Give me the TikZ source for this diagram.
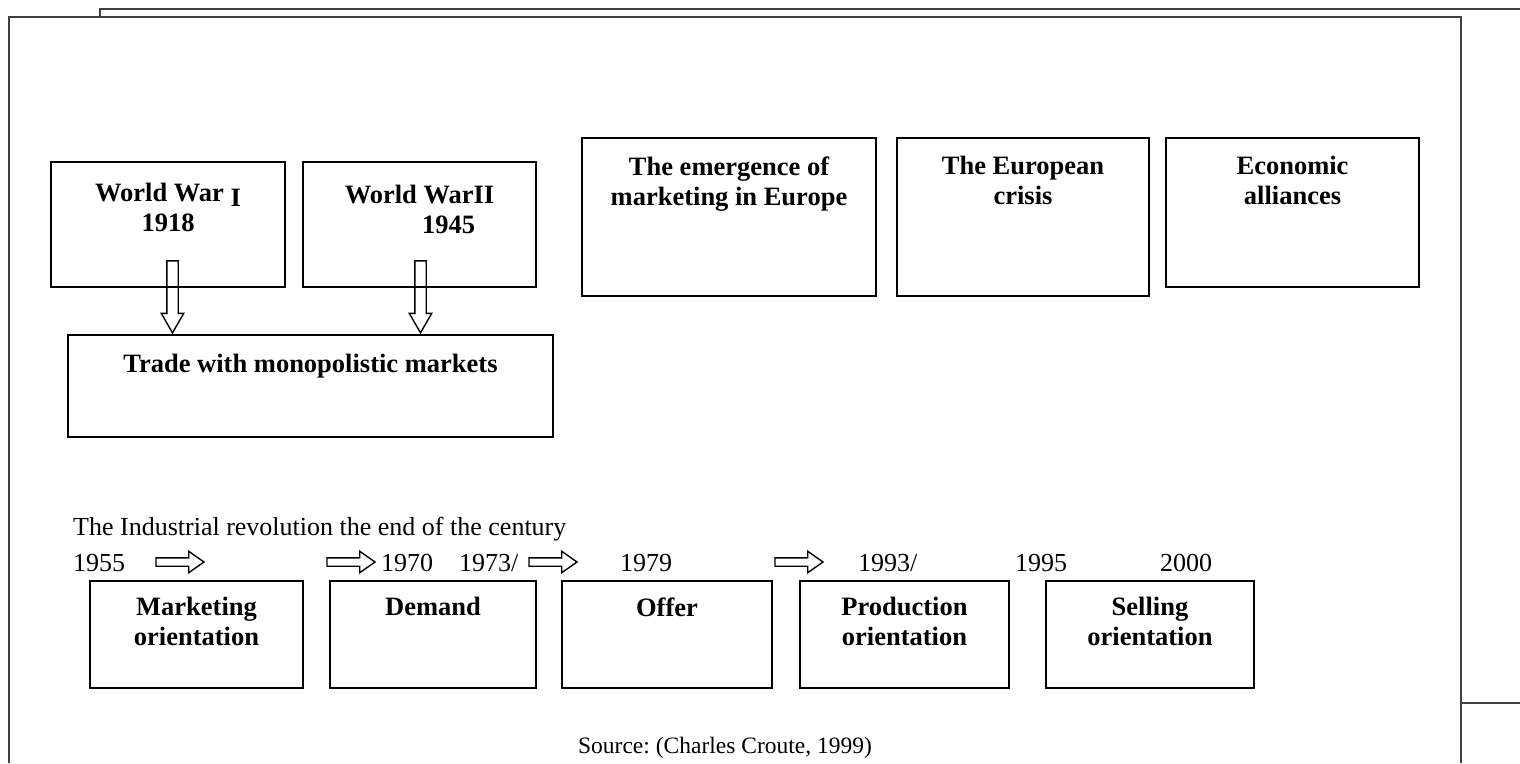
\documentclass[tikz,border=0pt]{standalone}
\usepackage{fontspec}
\setmainfont{Liberation Serif}
\frenchspacing
\usetikzlibrary{positioning, shapes.arrows, calc}

\tikzset{
  frame/.style={draw=black!75, line width=1.8pt},
  box/.style={draw, line width=1.6pt, inner sep=0pt},
  boxlabel/.style={font=\bfseries\fontsize{26.5}{30}\selectfont, align=center, inner sep=0pt, anchor=north},
  plaintext/.style={font=\fontsize{26}{30}\selectfont, inner sep=0pt},
  rarrow/.style={single arrow, draw, line width=1.4pt, inner sep=3.5pt, minimum height=48pt,
    single arrow head extend=6.5pt, single arrow tip angle=70},
  downarrow/.style={single arrow, draw, line width=1.4pt, inner sep=5pt, minimum height=72pt,
    single arrow head extend=5.5pt, single arrow tip angle=60, shape border rotate=270, anchor=tip},
}

\begin{document}
\begin{tikzpicture}[x=1pt, y=-1pt]
\useasboundingbox (0,0) rectangle (1520,763);

% page frames
\draw[frame] (100,17) -- (100,9) -- (1520,9);
\draw[frame] (9,763) -- (9,17) -- (1461,17) -- (1461,763);
\draw[frame] (1461,703) -- (1520,703);

% the two wars
\node[box, minimum width=234, minimum height=125] (ww1) at (168,224.5) {};
\node[boxlabel, below=22pt of ww1.north] (ww1text) {World War \raisebox{-5pt}{I}\\1918};
\node[box, minimum width=233, minimum height=125] (ww2) at (419.5,224.5) {};
\node[boxlabel, below=24pt of ww2.north] (ww2text) {World WarII\\\hspace*{58pt}1945};

% monopolistic markets
\node[box, minimum width=485, minimum height=102] (trade) at (310.5,386) {};
\node[boxlabel, below=20pt of trade.north] (tradetext) {Trade with monopolistic markets};
\node[downarrow] (arr1) at ($(ww1.south |- trade.north)+(4.5,0)$) {};
\node[downarrow] (arr2) at ($(ww2.south |- trade.north)+(1,0)$) {};

% Europe
\node[box, minimum width=294, minimum height=158] (europe) at (729,217) {};
\node[boxlabel, below=19pt of europe.north] (europetext) {The emergence of\\marketing in Europe};
\node[box, minimum width=252, minimum height=158] (crisis) at (1023,217) {};
\node[boxlabel, below=19pt of crisis.north] (crisistext) {The European\\crisis};
\node[box, minimum width=253, minimum height=149] (alliance) at (1292.5,212.5) {};
\node[boxlabel, below=19pt of alliance.north] (alliancetext) {Economic\\alliances};

% time line
\node[plaintext, anchor=base west] (industrial) at (73,535) {The Industrial revolution the end of the century};
\node[plaintext, anchor=base west] (y1955) at (73,571) {1955};
\node[rarrow] (tl1) at (177,562) {};
\node[rarrow] (tl2) at (348,562) {};
\node[plaintext, anchor=base west] (y1970) at (381,571) {1970};
\node[plaintext, anchor=base west] (y1973) at (459,571) {1973/};
\node[rarrow] (tl3) at (550,562) {};
\node[plaintext, anchor=base west] (y1979) at (620,571) {1979};
\node[rarrow] (tl4) at (796,562) {};
\node[plaintext, anchor=base west] (y1993) at (858,571) {1993/};
\node[plaintext, anchor=base west] (y1995) at (1015,571) {1995};
\node[plaintext, anchor=base west] (y2000) at (1160,571) {2000};

% orientations
\node[box, minimum width=213, minimum height=107] (marketing) at (196.5,634.5) {};
\node[boxlabel, below=17pt of marketing.north] (marketingtext) {Marketing\\orientation};
\node[box, minimum width=206, minimum height=107] (demand) at (433,634.5) {};
\node[boxlabel, below=17pt of demand.north] (demandtext) {Demand};
\node[box, minimum width=210, minimum height=107] (offer) at (667,634.5) {};
\node[boxlabel, below=17pt of offer.north] (offertext) {Offer};
\node[box, minimum width=209, minimum height=107] (production) at (904.5,634.5) {};
\node[boxlabel, below=17pt of production.north] (productiontext) {Production\\orientation};
\node[box, minimum width=208, minimum height=107] (selling) at (1150,634.5) {};
\node[boxlabel, below=17pt of selling.north] (sellingtext) {Selling\\orientation};

% source
\node[plaintext, font=\fontsize{23.5}{28}\selectfont, anchor=base] (source) at (725,753) {Source: (Charles Croute, 1999)};
\end{tikzpicture}
\end{document}
